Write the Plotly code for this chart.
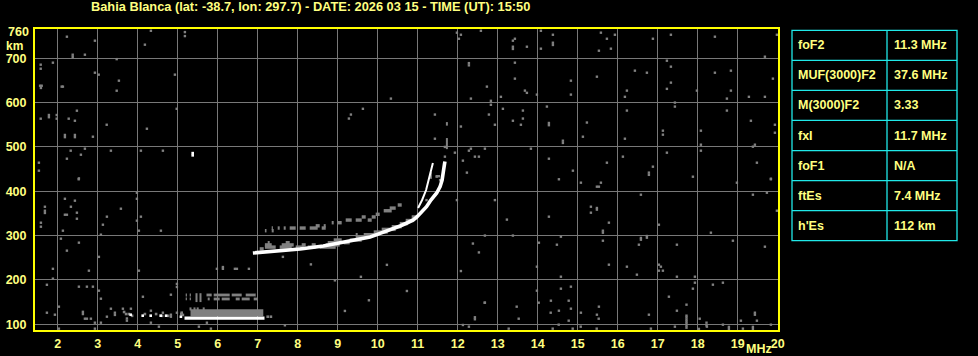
import plotly.graph_objects as go

# ---------------- data ----------------
title_text = "Bahia Blanca (lat: -38.7, lon: 297.7) - DATE: 2026 03 15 - TIME (UT): 15:50"

freq_range = [1.4325, 20.0075]      # MHz
height_range = [87.0, 766.0]        # km
x_ticks = list(range(2, 21))
y_ticks = [100, 200, 300, 400, 500, 600, 700]
y_top_label = 760

param_names = ["foF2", "MUF(3000)F2", "M(3000)F2", "fxI", "foF1", "ftEs", "h'Es"]
param_values = ["11.3 MHz", "37.6 MHz", "3.33", "11.7 MHz", "N/A", "7.4 MHz", "112 km"]

# F2 ordinary trace (white)
fo_freq = [6.88, 7.18, 7.64, 8.06, 8.64, 9.06, 9.475, 9.81, 10.06, 10.31, 10.56, 10.73, 10.89, 10.98,
           11.06, 11.22, 11.33, 11.475, 11.56, 11.61, 11.64, 11.67, 11.68]
fo_height = [260.7, 263.0, 265.9, 269.7, 276.5, 283.3, 290.0, 296.8, 305.1, 312.6, 321.6, 328.4, 335.2,
             341.9, 350.3, 365.2, 380.3, 396.0, 410.3, 425.4, 443.4, 459.2, 467.1]
# second (inner) white branch near the cusp
fb_freq = [11.01, 11.11, 11.21, 11.28, 11.33, 11.38]
fb_height = [362.2, 380.3, 402.8, 425.4, 443.4, 463.7]

# grey F echoes: segments (height km, f start, f end)
f_echo_h = [270, 274, 274, 274, 274, 274, 279, 279, 279, 279, 279, 284, 284, 284, 284,
            290, 290, 296, 302, 302, 308, 314, 320, 327, 334, 342,
            311, 311, 317, 317, 317, 317, 317, 317, 317, 322, 322, 329, 329,
            335, 335, 335, 342, 342, 348, 356, 362, 369]
f_echo_f0 = [7.05, 7.18, 7.55, 7.95, 8.25, 8.55, 7.18, 7.60, 8.10, 8.35, 8.70, 7.25, 7.70, 8.75, 9.15,
             8.90, 9.30, 9.45, 9.45, 9.65, 9.90, 10.10, 10.35, 10.55, 10.70, 10.85,
             7.18, 7.35, 7.35, 7.50, 7.65, 7.80, 8.05, 8.30, 8.60, 8.45, 8.65, 8.85, 9.00,
             9.20, 9.45, 9.75, 9.60, 9.85, 9.95, 10.15, 10.30, 10.50]
f_echo_f1 = [7.15, 7.45, 7.85, 8.15, 8.45, 8.95, 7.35, 7.90, 8.20, 8.45, 9.05, 7.30, 7.80, 9.05, 9.30,
             9.10, 9.60, 9.75, 9.50, 10.00, 10.25, 10.45, 10.60, 10.75, 10.90, 11.00,
             7.22, 7.40, 7.38, 7.55, 7.70, 7.95, 8.20, 8.50, 8.70, 8.55, 8.70, 8.90, 9.10,
             9.35, 9.60, 9.85, 9.70, 9.95, 10.05, 10.35, 10.45, 10.60]
# grey vertical echoes near foF2 (freq, h bottom, h top)
f_vert_f = [11.73, 11.73, 11.63, 11.33]
f_vert_h0 = [495.0, 548.0, 428.0, 428.0]
f_vert_h1 = [520.0, 556.0, 439.0, 443.0]
f_cusp_grey_f = [11.22, 11.43, 11.475, 11.56, 11.53, 11.48, 11.68, 11.98]
f_cusp_grey_h = [380.0, 391.0, 433.0, 425.0, 434.0, 434.0, 500.0, 380.0]

# sporadic E
es_white_f = [5.17, 7.17]
es_white_h = [114.0, 114.0]
es_band_f = [5.32, 7.14]
es_band_h = [126.0, 126.0]
es_row_h = [166, 166, 166, 166, 166, 166, 157, 157, 157, 157, 157, 157, 157, 157]
es_row_f0 = [5.20, 5.30, 5.72, 5.90, 6.35, 6.70, 5.20, 5.30, 5.75, 5.90, 6.10, 6.45, 6.60, 6.90]
es_row_f1 = [5.23, 5.33, 5.85, 6.30, 6.60, 6.95, 5.23, 5.33, 5.80, 6.05, 6.30, 6.55, 6.80, 7.00]
es_vert_f = [5.47, 5.57, 5.32, 5.42, 5.50, 5.65]
es_vert_h0 = [150.0, 150.0, 131.0, 131.0, 131.0, 131.0]
es_vert_h1 = [170.0, 170.0, 138.0, 138.0, 138.0, 138.0]
es_grey_dots_f = [3.66, 3.71, 3.78, 3.86, 4.18, 4.46, 4.61, 4.76, 5.09, 5.13, 7.25, 7.33, 5.10]
es_grey_dots_h = [127.6, 123.0, 123.0, 119.0, 123.0, 123.0, 119.0, 119.0, 123.0, 121.0, 117.0, 117.0, 126.0]
white_dots_f = [3.825, 4.125, 4.325, 4.575, 4.71, 5.08, 5.375, 5.375]
white_dots_h = [121.5, 119.3, 119.3, 119.3, 119.3, 117.0, 486.0, 481.0]

# scattered grey noise (freq MHz, height km)
noise = [
    (2.23, 748.6), (2.93, 739.6), (4.33, 762), (5.18, 759), (5.18, 750), (4.18, 730.6), (2.375, 708),
    (2.375, 703), (2.68, 708), (3.475, 698), (1.575, 685.5), (1.575, 676.4), (1.88, 690), (2.93, 667.4),
    (3.025, 663), (4.93, 663), (3.53, 649.4), (1.56, 638), (1.60, 638), (1.58, 633), (2.10, 636),
    (2.13, 636), (3.475, 626.8), (4.975, 586), (2.48, 581.7), (1.575, 563.7), (1.78, 572), (1.78, 567),
    (1.975, 572), (1.975, 563.7), (2.275, 563.7), (2.43, 559), (3.225, 550), (4.23, 541), (2.18, 527),
    (2.18, 522), (2.43, 527), (2.43, 522), (2.88, 523), (2.325, 491.5), (2.68, 496), (2.58, 482.4),
    (2.23, 473.4), (3.33, 491.5), (4.08, 491.5), (4.63, 491.5), (1.53, 464.4), (1.53, 446.4), (2.53, 429),
    (11.98, 757.7), (12.08, 753), (12.03, 744), (12.58, 762), (13.43, 744), (13.38, 739.6), (13.38, 726),
    (13.38, 721), (13.73, 726), (12.28, 689), (12.28, 684), (13.43, 690), (13.43, 654), (12.73, 636),
    (13.68, 627), (13.73, 622), (12.33, 609), (13.08, 613), (12.83, 604), (12.83, 595), (13.13, 586),
    (10.33, 609), (9.63, 586), (9.33, 573), (9.28, 564), (11.43, 573), (12.78, 573), (13.63, 582),
    (13.63, 564), (13.38, 559), (13.58, 550), (12.93, 550), (12.08, 546), (11.43, 518.5), (12.33, 496),
    (12.28, 491.5), (12.68, 496), (12.43, 478), (12.53, 478), (11.93, 487), (11.68, 478), (12.13, 469),
    (12.23, 442), (13.83, 496),
    (14.08, 762), (14.38, 753), (14.38, 735), (14.38, 730), (14.08, 721.6), (15.58, 757.7), (15.93, 753),
    (15.73, 744), (15.83, 721.6), (15.53, 717), (16.88, 744), (17.33, 753), (18.43, 748.6), (19.98, 753),
    (19.68, 703.5), (17.23, 694.5), (17.33, 681), (16.43, 672), (16.73, 667.4), (18.43, 667.4),
    (18.83, 672), (15.48, 658.4), (14.83, 649.4), (19.88, 654), (17.33, 645), (17.23, 631), (16.23, 627),
    (17.98, 627), (18.83, 627), (14.83, 618), (16.18, 613), (18.73, 609), (19.28, 613), (19.68, 613),
    (13.98, 618), (17.43, 600), (17.43, 591), (14.23, 591), (16.23, 582), (18.73, 582), (19.33, 559),
    (19.93, 550), (19.93, 532), (14.28, 554), (14.28, 549), (15.23, 555), (15.13, 523), (14.63, 514),
    (14.63, 509), (16.18, 518.5), (17.13, 536.6), (17.13, 527.6), (18.08, 536.6), (18.08, 505),
    (18.08, 491.5), (19.43, 505), (19.38, 500.5), (14.28, 473.4), (15.73, 464.4), (16.13, 478),
    (17.23, 487), (19.48, 464.4), (14.88, 446.4), (16.88, 455.4), (16.78, 442), (16.78, 437),
    (17.88, 432.8), (19.83, 428.3),
    (2.525, 427), (2.18, 383), (2.43, 378.7), (1.68, 365), (1.68, 356), (1.68, 351), (2.33, 365),
    (2.18, 347), (2.23, 347), (2.48, 351.6), (2.48, 338), (1.58, 329), (1.58, 320), (2.13, 311),
    (3.23, 342.6), (3.13, 324.5), (3.58, 360.6), (3.08, 302), (3.98, 396.7), (3.98, 383), (4.08, 342.6),
    (3.98, 333.6), (4.03, 311), (4.58, 311), (2.08, 293), (2.53, 284), (2.23, 266), (3.03, 252),
    (1.88, 225), (1.88, 202.8), (2.78, 220.8), (4.03, 220.8), (1.73, 189), (2.53, 184.7), (2.73, 184.7),
    (2.88, 184.7), (3.03, 175.7), (3.08, 157.6), (4.13, 162), (4.83, 166.6), (4.98, 191), (4.98, 184),
    (2.03, 139.6), (1.73, 126), (1.93, 121.5), (2.63, 128), (2.63, 123), (2.68, 112.5), (2.73, 112.5),
    (2.83, 112.5), (2.93, 103.5), (3.08, 103.5), (2.03, 90), (2.93, 90), (3.23, 117), (3.33, 135),
    (3.43, 126), (3.43, 121), (3.63, 135), (3.73, 113), (3.73, 108), (3.83, 135), (4.33, 130.5),
    (4.33, 103.5), (4.53, 94.5), (4.63, 126), (4.83, 121.5), (4.83, 117), (4.98, 126), (5.53, 94.5),
    (5.73, 103.5), (5.83, 90), (6.13, 229), (6.13, 225), (5.98, 225), (6.43, 225), (6.48, 225),
    (6.78, 225), (7.63, 252),
    (14.53, 427), (15.08, 419.3), (15.58, 419.3), (15.53, 410.3), (15.48, 410.3), (18.98, 419.3),
    (19.83, 427), (16.58, 392.2), (19.38, 392.2), (19.73, 396.7), (14.28, 342.6), (15.33, 365.1),
    (15.48, 362.2), (15.48, 358.5), (15.33, 351.6), (15.78, 329.1), (15.63, 311.0), (15.63, 306.5),
    (17.03, 324.5), (19.98, 356.1), (14.58, 297.5), (15.63, 288.4), (16.58, 290.7), (16.58, 294.7),
    (16.73, 295.2), (16.73, 299.0), (14.03, 283.9), (14.48, 279.4), (16.53, 279.4), (17.48, 279.4),
    (18.33, 306.5), (18.88, 288.4), (19.68, 274.9), (13.98, 229.8), (15.78, 234.3), (16.23, 229.8),
    (17.03, 234.3), (17.08, 229.8), (17.03, 220.8), (17.13, 220.8), (16.48, 211.8), (14.58, 207.2),
    (17.48, 207.2), (17.93, 207.2), (14.58, 180.2), (14.83, 184.7), (18.63, 193.7), (17.93, 193.7),
    (18.38, 189.2), (17.88, 180.2), (13.98, 175.7), (14.33, 153.1), (17.28, 162.1), (15.53, 139.6),
    (14.83, 135.1), (14.53, 130.5), (15.08, 126.0), (15.48, 121.5), (16.78, 121.5), (17.48, 130.5),
    (12.68, 148.6), (12.43, 115.7), (12.43, 111.2), (12.13, 98.3), (12.28, 94.5), (7.68, 97.6),
    (12.675, 148.6), (13.475, 139.6), (14.025, 148.6), (14.775, 153.1), (14.325, 126.0), (13.525, 112.5),
    (13.275, 90.0), (14.525, 99.0), (14.375, 90.0), (14.775, 108.0), (14.875, 90.0), (15.075, 94.5),
    (15.525, 112.5), (15.475, 90.0), (17.72, 144.1), (17.72, 119.3), (17.72, 115.0), (17.72, 110.2),
    (17.72, 105.7), (17.72, 101.2), (17.72, 96.7), (17.72, 92.2), (18.05, 112.5), (18.22, 103.5),
    (18.22, 97.6), (18.63, 99.0), (18.78, 94.0), (18.78, 89.5), (19.08, 108.0), (19.43, 126.0),
    (19.43, 121.5), (19.48, 108.0), (19.38, 94.0), (19.38, 89.5), (19.83, 99.0), (18.23, 94.5),
    (18.03, 89.5), (17.43, 94.5), (16.83, 90.0), (19.13, 90.0),
    (12.38, 282), (12.53, 262), (12.68, 300), (13.23, 336), (13.38, 300), (9.78, 154), (9.58, 207),
    (8.93, 199), (10.23, 234), (10.73, 175), (9.18, 130), (8.33, 235), (12.08, 220), (12.93, 380),
]
noise_f = [p[0] for p in noise]
noise_h = [p[1] for p in noise]

# ---------------- styles ----------------
BG = "#000000"
GRID = "#787878"
GREY = "#808080"
YELLOW_LINE = "#ffff00"
TEXT_YELLOW = "#ffff80"
CYAN = "#20e8e8"
FONT = "Liberation Sans"

W, H = 978, 356
L, R, T, B = 35, 778, 29, 330   # plot area in pixels


def seg(xs0, xs1, ys0, ys1):
    xs, ys = [], []
    for a, b, c, d in zip(xs0, xs1, ys0, ys1):
        xs += [a, b, None]
        ys += [c, d, None]
    return xs, ys


fig = go.Figure()

# noise
fig.add_trace(go.Scatter(x=noise_f, y=noise_h, mode="markers",
                         marker=dict(symbol="square", size=2.4, color=GREY, line=dict(width=0)),
                         hoverinfo="skip"))
# grey F echo segments
ex, ey = seg(f_echo_f0, f_echo_f1, f_echo_h, f_echo_h)
fig.add_trace(go.Scatter(x=ex, y=ey, mode="lines", line=dict(color=GREY, width=3.4), hoverinfo="skip"))
vx, vy = seg(f_vert_f, f_vert_f, f_vert_h0, f_vert_h1)
fig.add_trace(go.Scatter(x=vx, y=vy, mode="lines", line=dict(color=GREY, width=2), hoverinfo="skip"))
fig.add_trace(go.Scatter(x=f_cusp_grey_f, y=f_cusp_grey_h, mode="markers",
                         marker=dict(symbol="square", size=2.4, color=GREY, line=dict(width=0)),
                         hoverinfo="skip"))
# Es grey
fig.add_trace(go.Scatter(x=es_band_f, y=es_band_h, mode="lines", line=dict(color=GREY, width=7),
                         hoverinfo="skip"))
rx, ry = seg(es_row_f0, es_row_f1, es_row_h, es_row_h)
fig.add_trace(go.Scatter(x=rx, y=ry, mode="lines", line=dict(color=GREY, width=2.8), hoverinfo="skip"))
vx2, vy2 = seg(es_vert_f, es_vert_f, es_vert_h0, es_vert_h1)
fig.add_trace(go.Scatter(x=vx2, y=vy2, mode="lines", line=dict(color=GREY, width=2), hoverinfo="skip"))
fig.add_trace(go.Scatter(x=es_grey_dots_f, y=es_grey_dots_h, mode="markers",
                         marker=dict(symbol="square", size=2.6, color=GREY, line=dict(width=0)),
                         hoverinfo="skip"))
# white traces
fig.add_trace(go.Scatter(x=es_white_f, y=es_white_h, mode="lines", line=dict(color="#ffffff", width=3.2),
                         hoverinfo="skip"))
fig.add_trace(go.Scatter(x=fo_freq, y=fo_height, mode="lines", line=dict(color="#ffffff", width=3.6),
                         hoverinfo="skip"))
fig.add_trace(go.Scatter(x=fb_freq, y=fb_height, mode="lines", line=dict(color="#ffffff", width=2),
                         hoverinfo="skip"))
fig.add_trace(go.Scatter(x=white_dots_f, y=white_dots_h, mode="markers",
                         marker=dict(symbol="square", size=2.6, color="#ffffff", line=dict(width=0)),
                         hoverinfo="skip"))

pw, ph = R - L, B - T


def px(xp):
    return (xp - L) / pw


def py(yp):
    return (B - yp) / ph


shapes = []
# parameter table
tx0, tx1, tcol = 792, 957, 887
ty0, ty1 = 30.3, 240.7
rh = (ty1 - ty0) / len(param_names)
shapes.append(dict(type="rect", xref="paper", yref="paper", x0=px(tx0), x1=px(tx1), y0=py(ty1), y1=py(ty0),
                   line=dict(color=CYAN, width=1.3)))
shapes.append(dict(type="line", xref="paper", yref="paper", x0=px(tcol), x1=px(tcol), y0=py(ty1), y1=py(ty0),
                   line=dict(color=CYAN, width=1.3)))
annotations = []
for i, (n, v) in enumerate(zip(param_names, param_values)):
    if i > 0:
        yl = ty0 + i * rh
        shapes.append(dict(type="line", xref="paper", yref="paper", x0=px(tx0), x1=px(tx1), y0=py(yl), y1=py(yl),
                           line=dict(color=CYAN, width=1.3)))
    yc = ty0 + (i + 0.5) * rh
    annotations.append(dict(text=n, xref="paper", yref="paper", x=px(796), y=py(yc), xanchor="left",
                            yanchor="middle", showarrow=False,
                            font=dict(family=FONT, size=12.5, color=TEXT_YELLOW, weight="bold")))
    annotations.append(dict(text=v, xref="paper", yref="paper", x=px(891.5), y=py(yc), xanchor="left",
                            yanchor="middle", showarrow=False,
                            font=dict(family=FONT, size=12.5, color=TEXT_YELLOW, weight="bold")))

# title
annotations.append(dict(text=title_text, xref="paper", yref="paper", x=px(310), y=py(7), xanchor="center",
                        yanchor="middle", showarrow=False,
                        font=dict(family=FONT, size=12.8, color=TEXT_YELLOW, weight="bold")))
# 760 label, km, MHz
annotations.append(dict(text=str(y_top_label), xref="paper", yref="y", x=px(31), y=y_top_label, xanchor="right",
                        yanchor="middle", showarrow=False,
                        font=dict(family=FONT, size=12.5, color=TEXT_YELLOW, weight="bold")))
annotations.append(dict(text="km", xref="paper", yref="paper", x=px(14), y=py(46), xanchor="center",
                        yanchor="middle", showarrow=False,
                        font=dict(family=FONT, size=12, color=TEXT_YELLOW, weight="bold")))
annotations.append(dict(text="MHz", xref="paper", yref="paper", x=px(759), y=py(348.5), xanchor="center",
                        yanchor="middle", showarrow=False,
                        font=dict(family=FONT, size=12.5, color=TEXT_YELLOW, weight="bold")))

fig.update_layout(
    width=W, height=H,
    margin=dict(l=L, r=W - R, t=T, b=H - B, pad=0, autoexpand=False),
    paper_bgcolor=BG, plot_bgcolor=BG,
    showlegend=False,
    shapes=shapes, annotations=annotations,
    font=dict(family=FONT, color=TEXT_YELLOW),
)
fig.update_xaxes(range=freq_range, tickvals=x_ticks, ticktext=[str(v) for v in x_ticks],
                 showgrid=True, gridcolor=GRID, gridwidth=1, zeroline=False,
                 showline=True, linecolor=YELLOW_LINE, linewidth=2, mirror=True,
                 ticks="", ticklabelstandoff=1, automargin=False,
                 tickfont=dict(family=FONT, size=12.5, color=TEXT_YELLOW, weight="bold"))
fig.update_yaxes(range=height_range, tickvals=y_ticks, ticktext=[str(v) for v in y_ticks],
                 showgrid=True, gridcolor=GRID, gridwidth=1, zeroline=False,
                 showline=True, linecolor=YELLOW_LINE, linewidth=2, mirror=True,
                 ticks="", ticklabelstandoff=4, automargin=False,
                 tickfont=dict(family=FONT, size=12.5, color=TEXT_YELLOW, weight="bold"))

fig.write_html("out.html")
